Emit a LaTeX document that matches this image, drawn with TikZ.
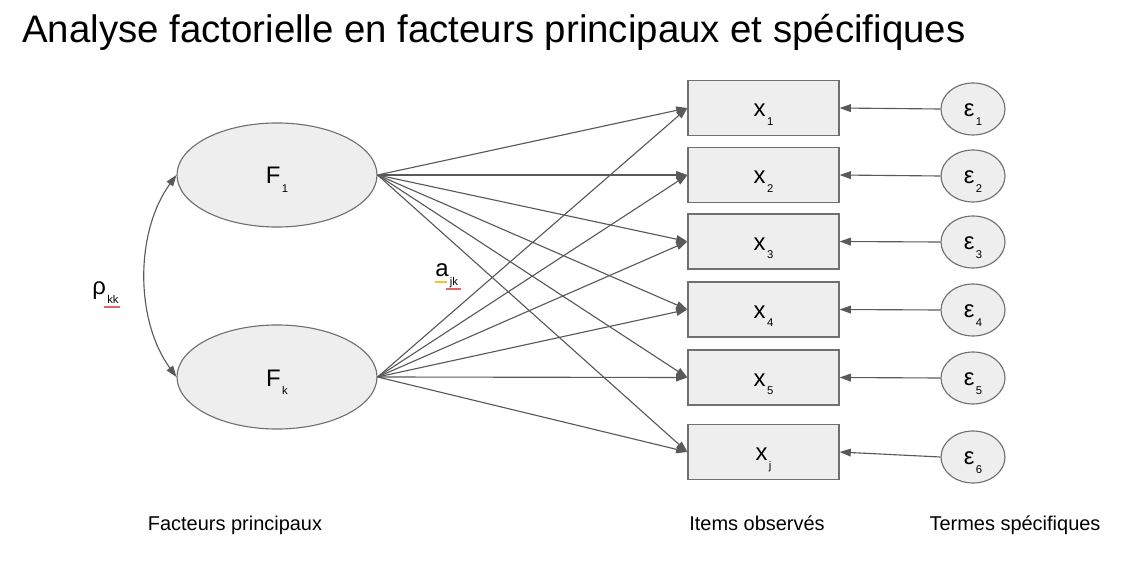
\documentclass[tikz,border=0pt]{standalone}
\usepackage{fontspec}
\setmainfont{Liberation Sans}
\usetikzlibrary{arrows.meta,shapes.geometric}
\definecolor{nodeFill}{HTML}{EEEEEE}
\definecolor{nodeLine}{HTML}{707070}
\definecolor{arrowLine}{HTML}{595959}
\definecolor{markRed}{HTML}{E06666}
\definecolor{markYellow}{HTML}{F1C232}
\newcommand\colorNodeFill{nodeFill}
\newcommand\colorNodeLine{nodeLine}
\newcommand\colorArrow{arrowLine}
\newcommand\itemX{763.5}
\newcommand\specX{973}
\newcommand\sublabel[2]{#1\kern1pt\raisebox{-6pt}{\fontsize{8}{8}\selectfont #2}}
\tikzset{
	factor/.style={ellipse, draw=\colorNodeLine, fill=\colorNodeFill, line width=0.8pt, minimum width=5cm, minimum height=2.6cm, inner sep=0pt, text height=12.8pt, text depth=0pt, font=\fontsize{17}{20}\selectfont},
	item/.style={rectangle, draw=\colorNodeLine, fill=\colorNodeFill, line width=0.8pt, minimum width=3.775cm, minimum height=1.375cm, inner sep=0pt, text height=12.6pt, text depth=0pt, font=\fontsize{17}{20}\selectfont},
	spec/.style={ellipse, draw=\colorNodeLine, fill=\colorNodeFill, line width=0.8pt, minimum width=1.6cm, minimum height=1.3cm, inner sep=0pt, text height=11pt, text depth=0pt, font=\fontsize{17}{20}\selectfont},
	load/.style={draw=\colorArrow, line width=0.8pt, -{Triangle[length=8pt,width=5.5pt]}},
	corr/.style={draw=\colorArrow, line width=0.8pt, {Triangle[length=8pt,width=5.5pt]}-{Triangle[length=8pt,width=5.5pt]}},
	caption/.style={anchor=base, font=\fontsize{14.2}{17}\selectfont}
}

\begin{document}
\begin{tikzpicture}[x=0.025cm, y=-0.025cm]
	\useasboundingbox (0,0) rectangle (1137,570);

	\node[anchor=base west, font=\fontsize{27.3}{32}\selectfont, inner sep=0pt] (title) at (22,43) {Analyse factorielle en facteurs principaux et spécifiques};

	\node[factor] (F1) at (277,175) {\sublabel{F}{1}};
	\node[factor] (Fk) at (277,377) {\sublabel{F}{k}};

	\foreach \i/\y/\e/\s in {1/108/109/1, 2/175/176/2, 3/241.5/242/3, 4/309.5/310/4, 5/377.5/378/5, 6/452/457/j}{
		\node[item] (x\i) at (\itemX,\y) {\sublabel{x}{\s}};
		\node[spec] (e\i) at (\specX,\e) {\sublabel{ε}{\i}};
		\draw[load] (e\i.west) to (x\i.east);
		\draw[load] (F1.east) to (x\i.west);
		\draw[load] (Fk.east) to (x\i.west);
	}

	\draw[corr] (F1.west) .. controls (135,232) and (135,320) .. (Fk.west);

	\node[anchor=base west, inner sep=0pt, font=\fontsize{17}{20}\selectfont] (rho) at (92,295) {\sublabel{ρ}{kk}};
	\node[anchor=base west, inner sep=0pt, font=\fontsize{17}{20}\selectfont] (ajk) at (435,277) {\sublabel{a}{jk}};
	\draw[color=markRed, line width=1.3pt] (104,307) to (120,307);
	\draw[color=markYellow, line width=1.3pt] (435,282) to (447,282);
	\draw[color=markRed, line width=1.3pt] (446,289) to (461,289);

	\node[caption] (capF) at (235,530) {Facteurs principaux};
	\node[caption] (capX) at (757,530) {Items observés};
	\node[caption] (capE) at (1015,530) {Termes spécifiques};
\end{tikzpicture}
\end{document}
